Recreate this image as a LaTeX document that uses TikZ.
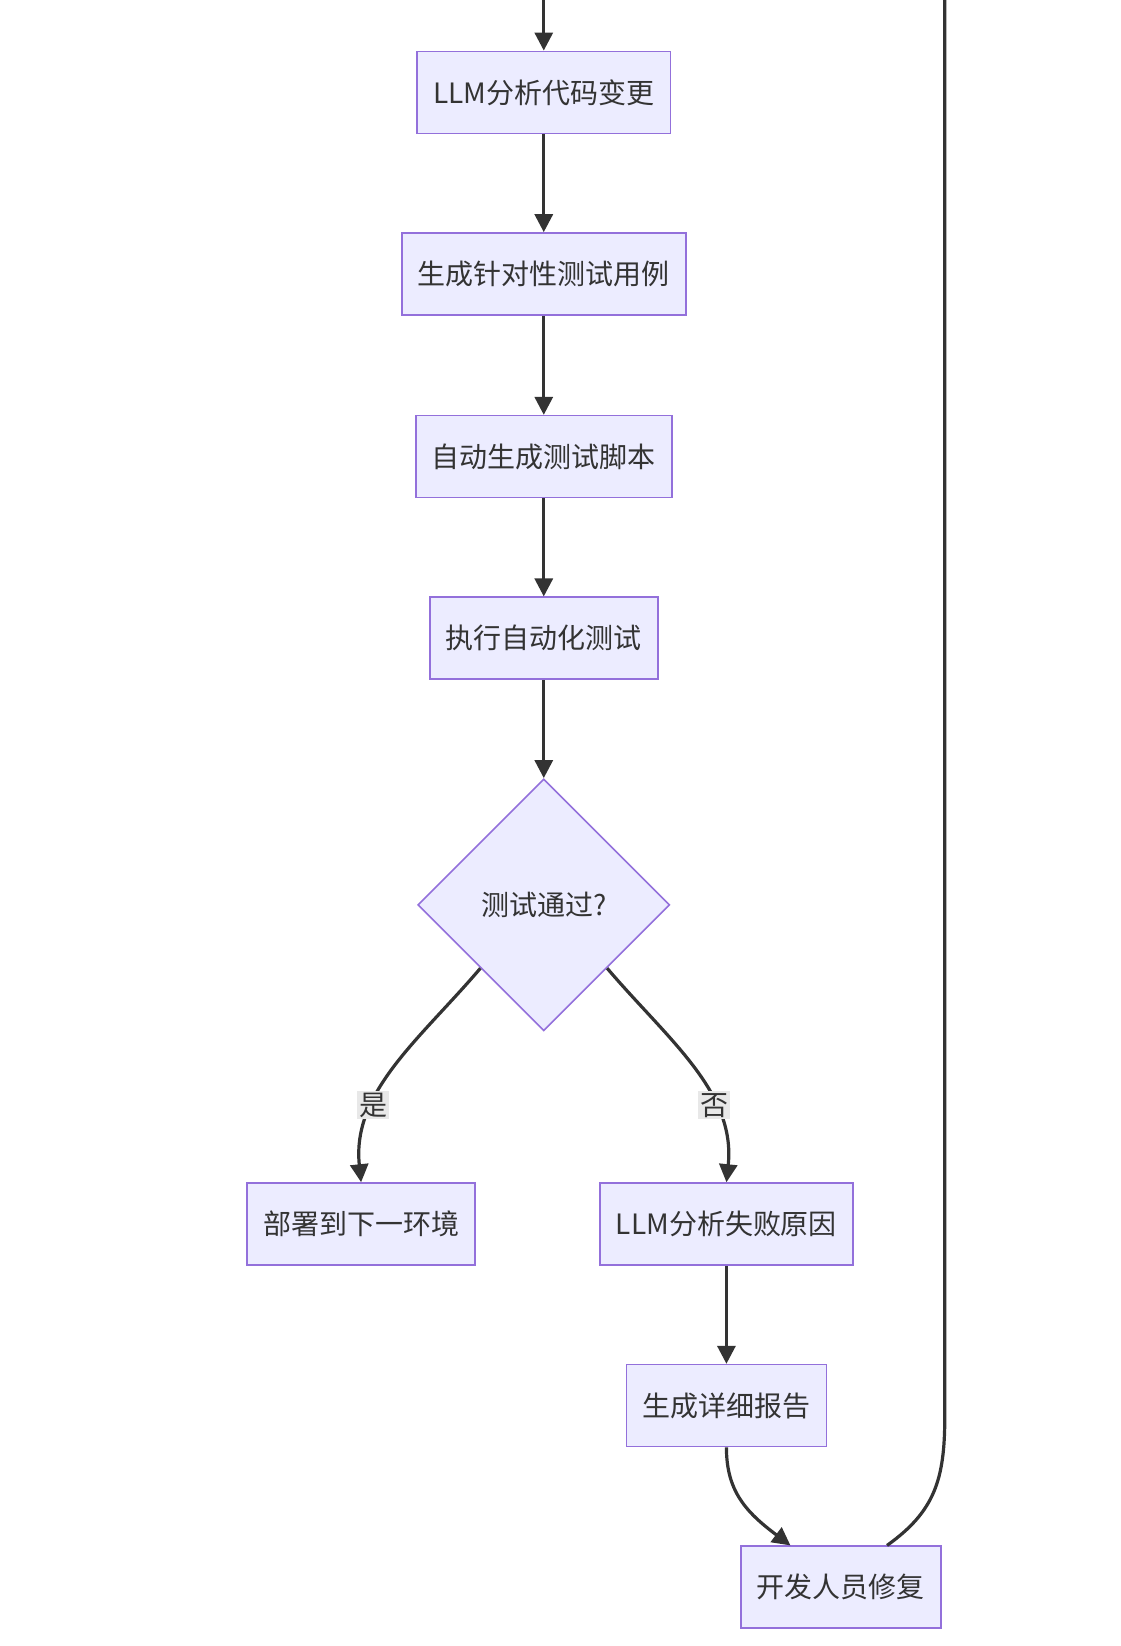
\documentclass[tikz,border=0pt]{standalone}
\usepackage{fontspec}
\setmainfont{Noto Sans CJK SC}
\usetikzlibrary{shapes.geometric,arrows.meta,calc}
\definecolor{boxfill}{HTML}{ECECFF}
\definecolor{boxline}{HTML}{9370DB}
\definecolor{edge}{HTML}{333333}
\tikzset{
  task/.style={draw=boxline,fill=boxfill,line width=0.8pt,inner xsep=8pt,minimum height=41pt,font=\fontsize{14}{16}\selectfont,text=edge},
  check/.style={diamond,draw=boxline,fill=boxfill,line width=0.8pt,minimum width=126pt,minimum height=126pt,inner sep=0pt,font=\fontsize{14}{16}\selectfont,text=edge},
  flow/.style={draw=edge,line width=1.6pt,-{Triangle[length=9pt,width=9pt]}},
  tag/.style={fill=gray!18,inner sep=1pt,font=\fontsize{14}{16}\selectfont,text=edge}
}
\begin{document}
\begin{tikzpicture}[x=0.525pt,y=-0.525pt]
\useasboundingbox (0,0) rectangle (1067,1568);
\node[task] (A) at (518,88) {LLM分析代码变更};
\node[task] (B) at (518,261) {生成针对性测试用例};
\node[task] (C) at (518,435) {自动生成测试脚本};
\node[task] (D) at (518,608) {执行自动化测试};
\node[check] (E) at (518,862) {测试通过?};
\node[task] (F) at (344,1166) {部署到下一环境};
\node[task] (G) at (692,1166) {LLM分析失败原因};
\node[task] (H) at (692,1339) {生成详细报告};
\node[task] (I) at (801,1512) {开发人员修复};
\coordinate (in) at (518,0);
\coordinate (back) at (900,0);
% main line
\draw[flow] (in) -- (A);
\draw[flow] (A) -- (B);
\draw[flow] (B) -- (C);
\draw[flow] (C) -- (D);
\draw[flow] (D) -- (E);
\draw[flow] (E.south west) .. controls (400,990) and (335,1040) .. (F.north) node[tag,pos=0.68] {是};
\draw[flow] (E.south east) .. controls (636,990) and (701,1040) .. (G.north) node[tag,pos=0.68] {否};
\draw[flow] (G) -- (H);
\draw[flow] (H.south) .. controls (692,1420) and (710,1440) .. ($(I.north)+(-48,0)$);
% loop back
\draw[draw=edge,line width=1.6pt] ($(I.north)+(44,0)$) .. controls (890,1440) and (900,1410) .. (900,1350) -- (back);
\end{tikzpicture}
\end{document}
